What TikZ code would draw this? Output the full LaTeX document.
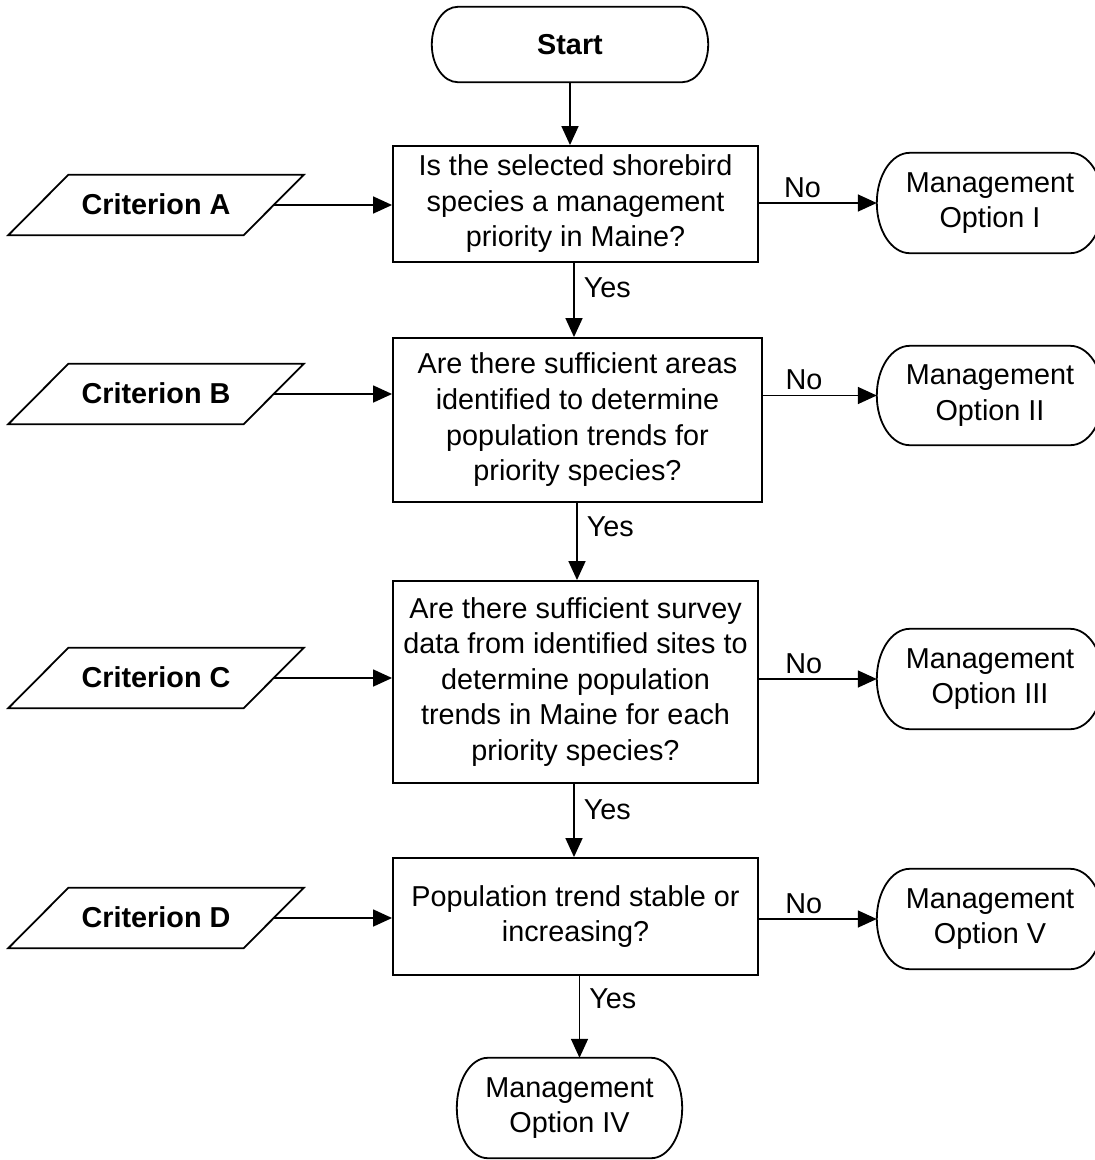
\documentclass[tikz,border=0pt]{standalone}
\usepackage{fontspec}
\setmainfont{Liberation Sans}
\usetikzlibrary{arrows.meta,calc}
\newcommand\fsz{\fontsize{28.8}{35.6}\selectfont}
\newcommand\termout[2]{%
  \draw[shapeline] let \p1=(#1.north east), \p2=(#1.south west), \n1={(\y1-\y2)/2} in
    (\x2+#2,\y1) -- (\x1-#2,\y1)
    arc[start angle=90,end angle=-90,x radius=#2,y radius=\n1]
    -- (\x2+#2,\y2)
    arc[start angle=270,end angle=90,x radius=#2,y radius=\n1] -- cycle;}
\newcommand\critout[1]{%
  \draw[shapeline] ([xshift=30pt]#1.north west) -- ([xshift=30pt]#1.north east)
    -- ([xshift=-30pt]#1.south east) -- ([xshift=-30pt]#1.south west) -- cycle;}
\tikzset{
  shapeline/.style={line width=1.8pt, line join=miter},
  linebox/.style={execute at begin node={\rule{0pt}{26pt}},
    execute at end node={\rule[-6.1pt]{0pt}{0pt}}},
  qbox/.style={draw, line width=1.9pt, rectangle, align=center, inner sep=0pt, font=\fsz, linebox},
  term/.style={rectangle, align=center, inner sep=0pt, font=\fsz, linebox},
  crit/.style={rectangle, align=center, inner sep=0pt, font=\fsz\bfseries,
    minimum width=235pt, minimum height=60pt, linebox},
  arr/.style={line width=1.6pt, -{Triangle[length=19pt,width=17pt]}},
  lbl/.style={inner sep=0pt, font=\fsz}
}
\begin{document}
\begin{tikzpicture}[x=1pt,y=1pt]
\useasboundingbox[fill=white] (0,0) rectangle (1095,-1160);

% terminators
\node[term, minimum width=276pt, minimum height=75pt] (start) at (570,-44.5) {\bfseries Start};
\node[term, minimum width=226pt, minimum height=100pt] (mo1) at (990,-203) {Management\\Option I};
\node[term, minimum width=226pt, minimum height=99pt] (mo2) at (990,-395.5) {Management\\Option II};
\node[term, minimum width=226pt, minimum height=100pt] (mo3) at (990,-679) {Management\\Option III};
\node[term, minimum width=226pt, minimum height=100pt] (mo5) at (990,-919) {Management\\Option V};
\node[term, minimum width=225pt, minimum height=100pt] (mo4) at (569.5,-1108) {Management\\Option IV};
\termout{start}{26pt}
\termout{mo1}{33pt}
\termout{mo2}{33pt}
\termout{mo3}{33pt}
\termout{mo5}{33pt}
\termout{mo4}{31pt}

% questions
\node[qbox, minimum width=365pt, minimum height=116pt] (q1) at (575.5,-204)
  {Is the selected shorebird\\species a management\\priority in Maine?};
\node[qbox, minimum width=369pt, minimum height=164pt] (q2) at (577.5,-420)
  {Are there sufficient areas\\identified to determine\\population trends for\\priority species?};
\node[qbox, minimum width=365pt, minimum height=202pt] (q3) at (575.5,-682)
  {Are there sufficient survey\\data from identified sites to\\determine population\\trends in Maine for each\\priority species?};
\node[qbox, minimum width=365pt, minimum height=117pt] (q4) at (575.5,-916.5)
  {Population trend stable or\\increasing?};

% criteria
\node[crit] (ca) at (156,-205) {Criterion A};
\node[crit] (cb) at (156,-394) {Criterion B};
\node[crit] (cc) at (156,-678) {Criterion C};
\node[crit] (cd) at (156,-918) {Criterion D};
\critout{ca}
\critout{cb}
\critout{cc}
\critout{cd}

% connectors
\draw[arr] (start.south) -- (start.south |- q1.north);
\draw[arr] (ca.east) -- (q1.west |- ca.east);
\draw[arr] (cb.east) -- (q2.west |- cb.east);
\draw[arr] (cc.east) -- (q3.west |- cc.east);
\draw[arr] (cd.east) -- (q4.west |- cd.east);

\draw[arr] (q1.east |- mo1.west) -- node[lbl, pos=0.37, anchor=base, yshift=6pt] {No} (mo1.west);
\draw[arr] (q2.east |- mo2.west) -- node[lbl, pos=0.36, anchor=base, yshift=6pt] {No} (mo2.west);
\draw[arr] (q3.east |- mo3.west) -- node[lbl, pos=0.38, anchor=base, yshift=6pt] {No} (mo3.west);
\draw[arr] (q4.east |- mo5.west) -- node[lbl, pos=0.38, anchor=base, yshift=6pt] {No} (mo5.west);

\draw[arr] ([xshift=-1.5pt]q1.south) -- node[lbl, pos=0.47, anchor=base west, xshift=9pt] {Yes} ([xshift=-1.5pt]q1.south |- q2.north);
\draw[arr] ([xshift=-0.5pt]q2.south) -- node[lbl, pos=0.44, anchor=base west, xshift=9pt] {Yes} ([xshift=-0.5pt]q2.south |- q3.north);
\draw[arr] ([xshift=-1.5pt]q3.south) -- node[lbl, pos=0.49, anchor=base west, xshift=9pt] {Yes} ([xshift=-1.5pt]q3.south |- q4.north);
\draw[arr] ([xshift=4pt]q4.south) -- node[lbl, pos=0.40, anchor=base west, xshift=9pt] {Yes} ([xshift=4pt]q4.south |- mo4.north);
\end{tikzpicture}
\end{document}
